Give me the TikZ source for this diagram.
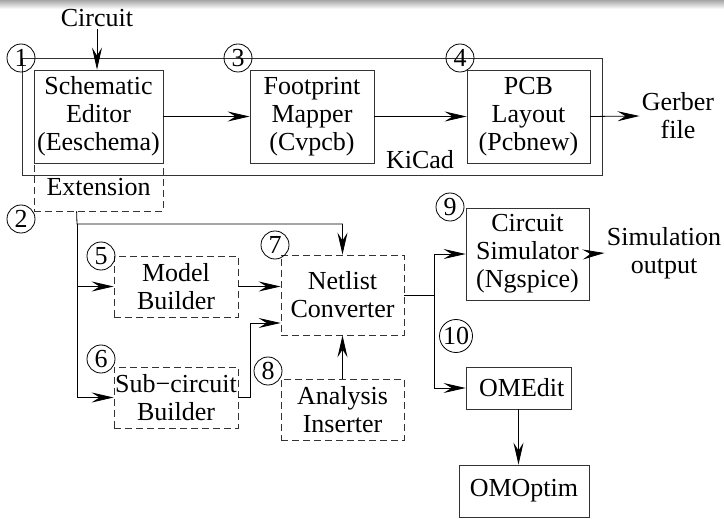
\documentclass[tikz,border=0pt]{standalone}
\usepackage{fontspec}
\setmainfont{Liberation Serif}
\usetikzlibrary{arrows.meta}
\tikzstyle{blk}=[rectangle, draw=black!80, thin, align=center, inner sep=0pt, font=\fontsize{13}{14}\selectfont]
\tikzstyle{dblk}=[blk, dash pattern=on 3.5pt off 2pt]
\tikzstyle{num}=[circle, draw, thin, inner sep=0.3pt, minimum size=14pt, font=\fontsize{13}{14}\selectfont]
\tikzstyle{lbl}=[align=center, inner sep=1pt, font=\fontsize{13}{14}\selectfont]
\tikzstyle{arr}=[thin, -{Stealth[length=11pt,width=5pt,inset=4pt]}]

\begin{document}
\begin{tikzpicture}[x=0.5pt, y=-0.5pt]
  \useasboundingbox (0,0) rectangle (724,519);
  \shade[top color=gray!70, bottom color=white, draw=none] (0,0) rectangle (724,9);

  % KiCad part
  \draw[thin, black!80] (22,58) rectangle (602,175);
  \node[lbl] (kicad) at (420,160) {KiCad};
  \node[lbl] (cin) at (97,18) {Circuit};
  \node[blk, minimum width=64.5pt, minimum height=46.5pt] (sch) at (98.5,116.5) {Schematic\\Editor\\(Eeschema)};
  \node[dblk, minimum width=64.5pt, minimum height=24pt] (ext) at (98.5,187) {Extension};
  \node[blk, minimum width=62pt, minimum height=46.5pt] (fpm) at (312,116.5) {Footprint\\Mapper\\(Cvpcb)};
  \node[blk, minimum width=61.5pt, minimum height=46.5pt] (pcb) at (528.5,116.5) {PCB\\Layout\\(Pcbnew)};
  \node[lbl] (gbr) at (678,116) {Gerber\\file};

  % extension blocks
  \node[dblk, minimum width=62pt, minimum height=30.5pt] (model) at (176,286.5) {Model\\Builder};
  \node[dblk, minimum width=62pt, minimum height=30.5pt] (subc) at (176,397.5) {Sub−circuit\\Builder};
  \node[dblk, minimum width=61.5pt, minimum height=40pt] (netl) at (342.5,295) {Netlist\\Converter};
  \node[dblk, minimum width=61.5pt, minimum height=30.5pt] (anal) at (342.5,409.5) {Analysis\\Inserter};

  % simulation
  \node[blk, minimum width=61.5pt, minimum height=46pt] (sim) at (527.5,254) {Circuit\\Simulator\\(Ngspice)};
  \node[lbl] (sout) at (664,253) {Simulation\\output};
  \node[blk, minimum width=52.5pt, minimum height=21pt] (omedit) at (518.5,388) {\ OMEdit};
  \node[blk, minimum width=65pt, minimum height=26pt] (omopt) at (524,491) {OMOptim};

  % numbers
  \node[num] (n1) at (21,58) {1};
  \node[num] (n2) at (21,219) {2};
  \node[num] (n3) at (238,58) {3};
  \node[num] (n4) at (460,58) {4};
  \node[num] (n5) at (101,256) {5};
  \node[num] (n6) at (101,359) {6};
  \node[num] (n7) at (275,245) {7};
  \node[num] (n8) at (268,371) {8};
  \node[num] (n9) at (450,207) {9};
  \node[num] (n10) at (456,336) {10};

  \coordinate (bus) at (77,224);
  \coordinate (split) at ([xshift=15pt]netl.east);

  \draw[arr] (cin.south) -- (cin.south |- sch.north);
  \draw[arr] (sch) -- (fpm);
  \draw[arr] (fpm) -- (pcb);
  \draw[arr] (pcb.east) -- (gbr.west);

  \draw[arr] ([xshift=21.5pt]ext.south west) -- (bus) -| (netl.north);
  \draw[arr] (bus) |- (model.west);
  \draw[arr] (bus) |- (subc.west);
  \draw[arr] (model.east) -- (model.east -| netl.west);
  \draw[arr] (subc.east) -- ++(6pt,0) |- ([yshift=-14pt]netl.west);
  \draw[arr] (anal.north) -- (netl.south);

  \draw[thin] (netl.east) -- (split);
  \draw[arr] (split) |- (sim.west);
  \draw[arr] (split) |- (omedit.west);
  \draw[arr] (sim.east) -- (sout.west);
  \draw[arr] (omedit.south) -- (omedit.south |- omopt.north);
\end{tikzpicture}
\end{document}
